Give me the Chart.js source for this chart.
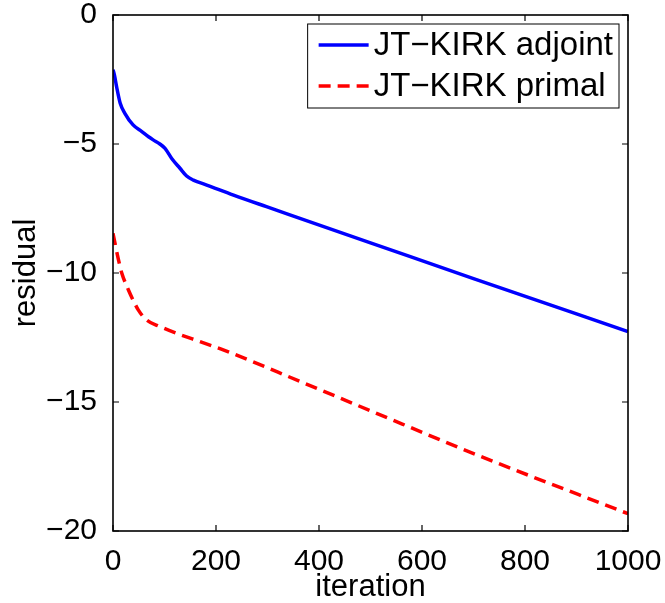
<!DOCTYPE html>
<html lang="en">
<head>
<meta charset="UTF-8">
<title>JT-KIRK residual history</title>
<script src="https://cdn.jsdelivr.net/npm/chart.js"></script>
<style>
  html, body { margin: 0; padding: 0; background: #fff; }
  #wrap { position: relative; width: 665px; height: 603px; }
</style>
</head>
<body>
<div id="wrap"><canvas id="residualChart"></canvas></div>
<script>
// residual history per iteration
const seriesNames = ['JT\u2212KIRK adjoint', 'JT\u2212KIRK primal'];
const iterAdjoint = [0, 3, 7, 14, 23, 39, 56, 69, 78, 91, 101, 114, 130, 143, 156, 182, 234, 298, 363, 500, 700, 1000];
const resAdjoint  = [-2.12, -2.35, -2.78, -3.42, -3.81, -4.26, -4.52, -4.72, -4.84, -5.0, -5.17, -5.56, -5.94, -6.24, -6.4, -6.59, -6.98, -7.43, -7.88, -8.83, -10.22, -12.27];
const iterPrimal  = [0, 10, 17, 30, 39, 49, 65, 88, 124, 169, 214, 363, 500, 713, 1000];
const resPrimal   = [-8.46, -9.43, -10.0, -10.66, -11.05, -11.43, -11.82, -12.05, -12.34, -12.66, -12.98, -14.2, -15.34, -17.1, -19.33];
const xTicks = [0, 200, 400, 600, 800, 1000];
const yTicks = [0, -5, -10, -15, -20];

const FONT = '"Liberation Sans", Arial, Helvetica, sans-serif';
const pairs = (xs, ys) => xs.map((v, i) => ({ x: v, y: ys[i] }));
const minus = v => String(v).replace('-', '\u2212');

// MATLAB-style box with inward ticks and a legend inside the axes
const frameAndLegend = {
  id: 'frameAndLegend',
  afterDraw(chart) {
    const { ctx, chartArea: a, scales: { x, y } } = chart;
    ctx.save();
    ctx.strokeStyle = '#000';
    ctx.lineWidth = 1.2;
    ctx.beginPath();
    xTicks.forEach(v => {
      const px = x.getPixelForValue(v);
      ctx.moveTo(px, a.bottom); ctx.lineTo(px, a.bottom - 6);
      ctx.moveTo(px, a.top);    ctx.lineTo(px, a.top + 6);
    });
    yTicks.forEach(v => {
      const py = y.getPixelForValue(v);
      ctx.moveTo(a.left, py);  ctx.lineTo(a.left + 6, py);
      ctx.moveTo(a.right, py); ctx.lineTo(a.right - 6, py);
    });
    ctx.stroke();
    ctx.lineWidth = 1.6;
    ctx.strokeRect(a.left, a.top, a.right - a.left, a.bottom - a.top);

    // legend
    ctx.font = '33px ' + FONT;
    const textW = Math.max(...seriesNames.map(n => ctx.measureText(n).width));
    const boxW = 66 + textW + 6;
    const boxH = 84;
    const bx = a.right - 9 - boxW;
    const by = a.top + 9;
    ctx.fillStyle = '#fff';
    ctx.fillRect(bx, by, boxW, boxH);
    ctx.lineWidth = 1;
    ctx.strokeRect(bx, by, boxW, boxH);
    chart.data.datasets.forEach((ds, i) => {
      const cy = by + 21 + i * 41;
      ctx.beginPath();
      ctx.strokeStyle = ds.borderColor;
      ctx.lineWidth = ds.borderWidth;
      ctx.setLineDash(ds.borderDash || []);
      ctx.moveTo(bx + 11, cy);
      ctx.lineTo(bx + 61, cy);
      ctx.stroke();
      ctx.setLineDash([]);
      ctx.fillStyle = '#000';
      ctx.textBaseline = 'middle';
      ctx.textAlign = 'left';
      ctx.fillText(ds.label, bx + 66, cy + 1);
    });
    ctx.restore();
  }
};

new Chart(document.getElementById('residualChart'), {
  type: 'line',
  data: {
    datasets: [
      {
        label: seriesNames[0],
        data: pairs(iterAdjoint, resAdjoint),
        borderColor: '#0000ff',
        borderWidth: 3.5,
        pointRadius: 0,
        cubicInterpolationMode: 'monotone'
      },
      {
        label: seriesNames[1],
        data: pairs(iterPrimal, resPrimal),
        borderColor: '#ff0000',
        borderWidth: 3.5,
        borderDash: [12, 7],
        pointRadius: 0,
        cubicInterpolationMode: 'monotone'
      }
    ]
  },
  options: {
    responsive: true,
    maintainAspectRatio: false,
    animation: false,
    layout: { padding: { top: 15, right: 37, left: 0, bottom: 0 } },
    plugins: { legend: { display: false }, tooltip: { enabled: false } },
    scales: {
      x: {
        type: 'linear',
        min: 0, max: 1000,
        afterBuildTicks: s => { s.ticks = xTicks.map(v => ({ value: v })); },
        afterFit: s => { s.height = 72; s.paddingLeft = 0; s.paddingRight = 0; },
        grid: { display: false },
        border: { display: false },
        ticks: { color: '#000', padding: 8, font: { family: FONT, size: 30, lineHeight: 1 }, maxRotation: 0, callback: minus },
        title: { display: true, text: 'iteration', color: '#000', padding: { top: 0, bottom: 0 }, font: { family: FONT, size: 31, lineHeight: 1 } }
      },
      y: {
        type: 'linear',
        min: -20, max: 0,
        afterBuildTicks: s => { s.ticks = yTicks.map(v => ({ value: v })); },
        afterFit: s => { s.width = 113; s.paddingTop = 0; s.paddingBottom = 0; },
        grid: { display: false },
        border: { display: false },
        ticks: { color: '#000', padding: 8, font: { family: FONT, size: 30, lineHeight: 1 }, callback: minus },
        title: { display: true, text: 'residual', color: '#000', padding: { top: 11, bottom: 0 }, font: { family: FONT, size: 31, lineHeight: 1 } }
      }
    }
  },
  plugins: [frameAndLegend]
});
</script>
</body>
</html>
